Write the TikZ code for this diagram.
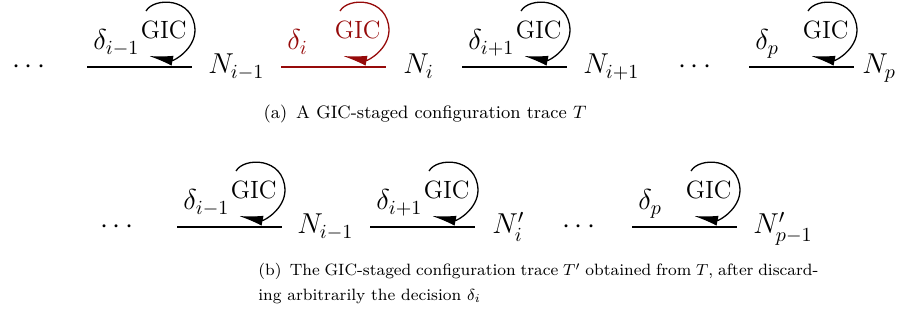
\documentclass[tikz,border=0pt]{standalone}
\usetikzlibrary{arrows.meta,calc}
\definecolor{decred}{RGB}{150,10,10}
\tikzset{
  math/.style={font=\fontsize{14.4}{17}\selectfont, inner sep=0pt},
  giclabel/.style={font=\fontsize{12.5}{15}\selectfont, inner sep=0pt},
  captext/.style={font=\fontsize{9}{11}\selectfont, inner sep=0pt},
  captextb/.style={font=\fontsize{8.2}{10}\selectfont, inner sep=0pt},
  trans/.style={line width=0.65pt},
  gicloop/.style={line width=0.65pt, -{Latex[length=12pt,width=5pt]}},
}
\newcommand\gicstep[5]{%
  \coordinate (#1s) at (#2,#3);
  \coordinate (#1e) at ($(#1s)+(105,0)$);
  \draw[trans,#5] (#1s) -- (#1e);
  \node[math,anchor=base west,text=#5] (#1d) at ($(#1s)+(6,-17)$) {$\delta_{#4}$};
  \node[giclabel,anchor=base east,text=#5] (#1g) at ($(#1e)+(-5,-28)$) {GIC};
  \draw[gicloop,#5] ($(#1e)+(-46,-56)$) .. controls ($(#1e)+(-38,-70)$) and ($(#1e)+(2,-70)$) .. ($(#1e)+(3,-37)$)
     .. controls ($(#1e)+(3,-18)$) and ($(#1e)+(-18,-6)$) .. ($(#1e)+(-43,-11)$);
}
\begin{document}
\begin{tikzpicture}[x=0.5pt,y=-0.5pt]
\useasboundingbox (0,0) rectangle (910,320);
% row (a)
\node[math,anchor=base] (adots1) at (29,74) {$\cdots$};
\gicstep{a1}{87}{67}{i-1}{black}
\node[math,anchor=base west] (aN1) at (208,74) {$N_{i-1}$};
\gicstep{a2}{281}{67}{i}{decred}
\node[math,anchor=base west] (aN2) at (403,74) {$N_{i}$};
\gicstep{a3}{462}{67}{i+1}{black}
\node[math,anchor=base west] (aN3) at (583,74) {$N_{i+1}$};
\node[math,anchor=base] (adots2) at (695,74) {$\cdots$};
\gicstep{a4}{749}{67}{p}{black}
\node[math,anchor=base west] (aN4) at (862,74) {$N_{p}$};
\node[captext,anchor=base] (capa) at (425,119) {(a)\enspace A GIC-staged configuration trace $T$};
% row (b)
\node[math,anchor=base] (bdots1) at (117,234) {$\cdots$};
\gicstep{b1}{177}{227}{i-1}{black}
\node[math,anchor=base west] (bN1) at (297,234) {$N_{i-1}$};
\gicstep{b2}{370}{227}{i+1}{black}
\node[math,anchor=base west] (bN2) at (492,234) {$N'_{i}$};
\node[math,anchor=base] (bdots2) at (579,234) {$\cdots$};
\gicstep{b3}{632}{227}{p}{black}
\node[math,anchor=base west] (bN3) at (753,234) {$N'_{p-1}$};
\node[captextb,anchor=base west] (capb1) at (258,276) {\makebox[280pt][s]{(b)\enspace The GIC-staged configuration trace $T'$ obtained from $T$, after discard-}};
\node[captextb,anchor=base west] (capb2) at (258,300) {ing arbitrarily the decision $\delta_i$};
\end{tikzpicture}
\end{document}
